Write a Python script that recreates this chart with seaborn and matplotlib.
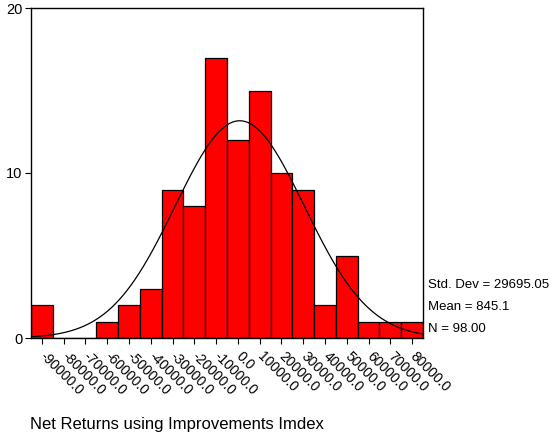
import numpy as np
import pandas as pd
import matplotlib
matplotlib.use("Agg")
import matplotlib.pyplot as plt
import matplotlib.transforms as mtransforms
import seaborn as sns

# Bin centres (width 10000) and the count of cases in each bin
bin_centers = [-90000, -80000, -70000, -60000, -50000, -40000, -30000, -20000, -10000,
               0, 10000, 20000, 30000, 40000, 50000, 60000, 70000, 80000]
counts = [2, 0, 0, 1, 2, 3, 9, 8, 17, 12, 15, 10, 9, 2, 5, 1, 1, 1]
tick_labels = ["-90000.0", "-80000.0", "-70000.0", "-60000.0", "-50000.0", "-40000.0",
               "-30000.0", "-20000.0", "-10000.0", "0.0", "10000.0", "20000.0",
               "30000.0", "40000.0", "50000.0", "60000.0", "70000.0", "80000.0"]

std_dev = 29695.05
mean = 845.1
n_cases = 98.00
bin_width = 10000

df = pd.DataFrame({"value": bin_centers, "count": counts})
lo = bin_centers[0] - bin_width / 2
hi = bin_centers[-1] + bin_width / 2

sns.set_theme(style="white")
plt.rcParams["font.family"] = ["Liberation Sans", "DejaVu Sans"]

fig = plt.figure(figsize=(5.51, 4.38), dpi=100)
ax = fig.add_axes([31 / 551, 1 - 338 / 438, (423 - 31) / 551, (338 - 8) / 438])

sns.histplot(data=df, x="value", weights="count", binwidth=bin_width,
             binrange=(lo, hi), ax=ax, color="#ff0000", alpha=1.0,
             edgecolor="black", linewidth=0.9)

# Fitted normal curve scaled to counts per bin
xs = np.linspace(lo, hi, 400)
curve = n_cases * bin_width * np.exp(-0.5 * ((xs - mean) / std_dev) ** 2) / (std_dev * np.sqrt(2 * np.pi))
sns.lineplot(x=xs, y=curve, ax=ax, color="black", linewidth=0.9)

ax.set_xlim(lo, hi)
ax.set_ylim(0, 20)
ax.set_yticks([0, 10, 20])
ax.set_yticklabels(["0", "10", "20"], fontsize=10.5)
ax.set_xticks(bin_centers)
ax.set_xticklabels(tick_labels, rotation=-45, ha="left", va="top",
                   rotation_mode="anchor", fontsize=10)
ax.tick_params(axis="both", direction="out", length=4, width=0.8, colors="black",
               bottom=True, left=True)
ax.tick_params(axis="y", pad=2)
ax.tick_params(axis="x", pad=4)

# nudge the slanted labels a little to the right of their ticks
shift = mtransforms.ScaledTranslation(5 / 100, 0, fig.dpi_scale_trans)
for lbl in ax.get_xticklabels():
    lbl.set_transform(lbl.get_transform() + shift)

for side in ["left", "bottom", "right", "top"]:
    ax.spines[side].set_visible(True)
    ax.spines[side].set_color("black")
    ax.spines[side].set_linewidth(1.0)
ax.set_xlabel("")
ax.set_ylabel("")

stats = [f"Std. Dev = {std_dev:.2f}", f"Mean = {mean:.1f}", f"N = {n_cases:.2f}"]
for i, txt in enumerate(stats):
    fig.text(428 / 551, 1 - (285.5 + i * 22) / 438, txt, fontsize=9.5,
             ha="left", va="center", color="black")

fig.text(30 / 551, 1 - 425 / 438, "Net Returns using Improvements Imdex",
         fontsize=12, ha="left", va="center", color="black")

fig.savefig("out.png", dpi=100)
